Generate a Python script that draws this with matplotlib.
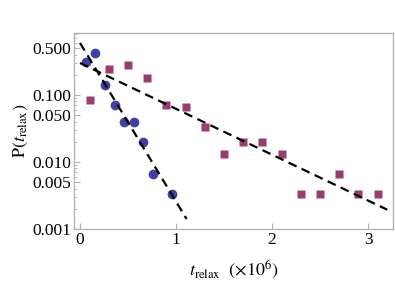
import matplotlib
matplotlib.use("Agg")
import matplotlib.pyplot as plt
from matplotlib.ticker import FixedLocator, NullFormatter, NullLocator, LogLocator

plt.rcParams['mathtext.fontset'] = 'stix'
plt.rcParams['font.family'] = ['Liberation Serif', 'DejaVu Serif']

# blue circles
blue_x = [0.06, 0.16, 0.26, 0.36, 0.46, 0.56, 0.66, 0.76, 0.96]
blue_y = [0.31, 0.417, 0.14, 0.07, 0.04, 0.04, 0.02, 0.0067, 0.0033]
# purple squares
purple_x = [0.1, 0.3, 0.5, 0.7, 0.9, 1.1, 1.3, 1.5, 1.7, 1.9, 2.1, 2.3, 2.5, 2.7, 2.9, 3.1]
purple_y = [0.083, 0.24, 0.28, 0.18, 0.07, 0.0667, 0.0333, 0.0133, 0.02, 0.02,
            0.0133, 0.0033, 0.0033, 0.0067, 0.0033, 0.0033]
# fitted lines (end points)
fit_blue_x = [0.0, 1.11]
fit_blue_y = [0.597, 0.00141]
fit_purple_x = [0.0, 3.2]
fit_purple_y = [0.30, 0.00194]

ytick_vals = [0.001, 0.005, 0.010, 0.050, 0.100, 0.500]
ytick_labels = ["0.001", "0.005", "0.010", "0.050", "0.100", "0.500"]
xtick_vals = [0, 1, 2, 3]

fig = plt.figure(figsize=(3.95, 2.85), dpi=100)
ax = fig.add_axes([74/395, 1-229/285, (393-74)/395, (229-33)/285])

blue = (0.25, 0.25, 0.64)
purple = (0.6, 0.24, 0.442)

ax.plot(fit_blue_x, fit_blue_y, color='black', lw=1.6, dashes=(4, 2.5), zorder=3)
ax.plot(fit_purple_x, fit_purple_y, color='black', lw=1.6, dashes=(4, 2.5), zorder=3)
ax.plot(blue_x, blue_y, 'o', color=blue, ms=7, mec='none', zorder=2)
ax.plot(purple_x, purple_y, 's', color=purple, ms=5.6, mec='none', zorder=2)

ax.set_yscale('log')
ax.set_xlim(-0.0625, 3.26)
ax.set_ylim(0.001, 0.84)

ax.yaxis.set_major_locator(FixedLocator(ytick_vals))
ax.set_yticklabels(ytick_labels)
ax.yaxis.set_minor_locator(LogLocator(base=10, subs=[2, 3, 4, 6, 7, 8, 9]))
ax.yaxis.set_minor_formatter(NullFormatter())
ax.set_xticks(xtick_vals)
ax.set_xticklabels([str(v) for v in xtick_vals])
ax.xaxis.set_minor_locator(NullLocator())

gray = '#b4b4b4'
for s in ax.spines.values():
    s.set_color(gray)
    s.set_linewidth(1.0)
ax.tick_params(axis='both', which='major', direction='in', length=4, width=0.8,
               color=gray, labelsize=12.5, pad=2)
ax.tick_params(axis='y', which='minor', direction='in', length=2, width=0.6, color=gray)

ax.set_ylabel(r'$\mathrm{P}(t_{\mathrm{relax}})$', fontsize=13, labelpad=2)
ax.set_xlabel(r'$t_{\mathrm{relax}}\ \ (\times 10^{6})$', fontsize=13, labelpad=8)

fig.savefig('out.png', dpi=100)
